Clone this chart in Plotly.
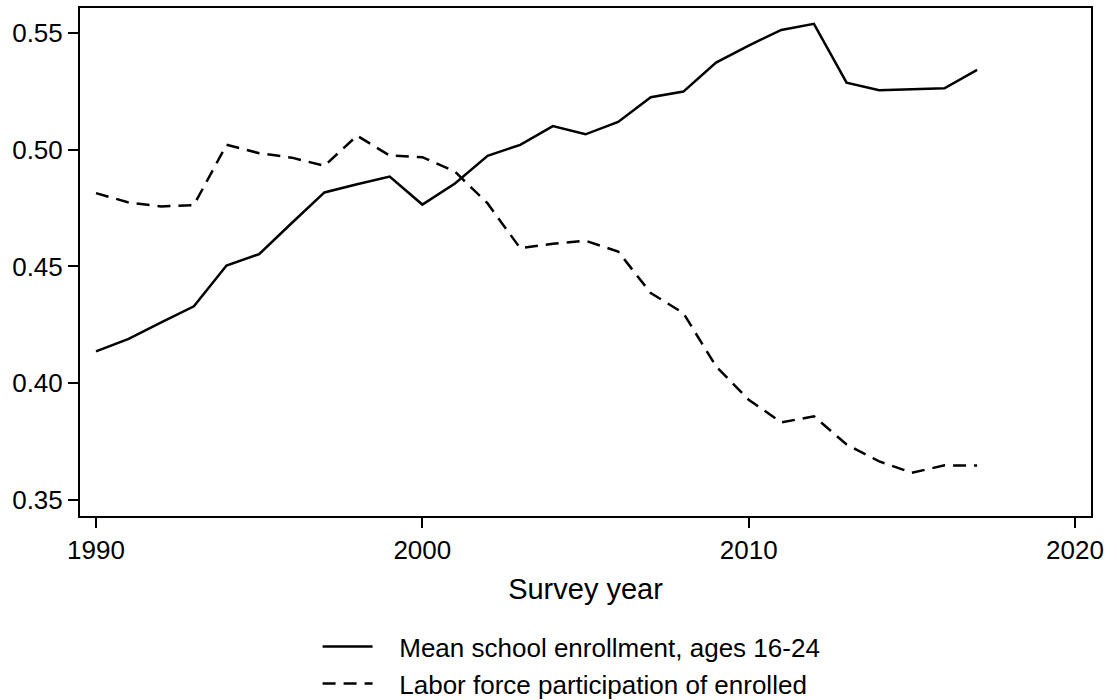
import plotly.graph_objects as go

# Survey years and the two annual series
years = list(range(1990, 2018))

enrollment = [
    0.4136, 0.4190, 0.4260, 0.4329, 0.4504, 0.4553, 0.4686, 0.4817,
    0.4852, 0.4885, 0.4765, 0.4855, 0.4974, 0.5021, 0.5101, 0.5066,
    0.5119, 0.5225, 0.5249, 0.5373, 0.5446, 0.5513, 0.5539, 0.5287,
    0.5255, 0.5259, 0.5263, 0.5342,
]

lfp_enrolled = [
    0.4814, 0.4774, 0.4757, 0.4763, 0.5021, 0.4985, 0.4966, 0.4931,
    0.5060, 0.4975, 0.4968, 0.4906, 0.4770, 0.4578, 0.4597, 0.4610,
    0.4564, 0.4386, 0.4300, 0.4072, 0.3929, 0.3832, 0.3858, 0.3737,
    0.3665, 0.3616, 0.3648, 0.3647,
]

x_ticks = [1990, 2000, 2010, 2020]
y_ticks = [0.35, 0.40, 0.45, 0.50, 0.55]

FONT = "Liberation Sans, Arial, Helvetica, sans-serif"
PAD = "\u00a0\u00a0\u00a0"  # gap between legend key and its label

fig = go.Figure()
fig.add_trace(go.Scatter(
    x=years, y=enrollment, mode="lines",
    name=PAD + "Mean school enrollment, ages 16-24",
    line=dict(color="black", width=2.5),
))
fig.add_trace(go.Scatter(
    x=years, y=lfp_enrolled, mode="lines",
    name=PAD + "Labor force participation of enrolled",
    line=dict(color="black", width=2.5, dash="13px,8px"),
))

fig.update_layout(
    width=1117, height=700,
    margin=dict(l=80, r=26, t=8, b=184, autoexpand=False),
    paper_bgcolor="white", plot_bgcolor="white",
    font=dict(family=FONT, size=26, color="black"),
    showlegend=True,
    legend=dict(
        x=0.235, y=-0.211, xanchor="left", yanchor="top",
        orientation="v", font=dict(size=26), bgcolor="rgba(0,0,0,0)",
        tracegroupgap=0, itemwidth=50,
    ),
    xaxis=dict(
        range=[1989.51, 2020.49], tickvals=x_ticks,
        showgrid=False, zeroline=False,
        showline=True, linecolor="black", linewidth=2, mirror=True,
        ticks="outside", ticklen=10, tickwidth=2, tickcolor="black",
        tickfont=dict(size=26),
        title=dict(text="Survey year", standoff=14, font=dict(size=29)),
    ),
    yaxis=dict(
        range=[0.3431, 0.5607], tickvals=y_ticks, tickformat=".2f",
        showgrid=False, zeroline=False,
        showline=True, linecolor="black", linewidth=2, mirror=True,
        ticks="outside", ticklen=10, tickwidth=2, tickcolor="black",
        tickfont=dict(size=26),
    ),
)

fig.write_html("out.html")
